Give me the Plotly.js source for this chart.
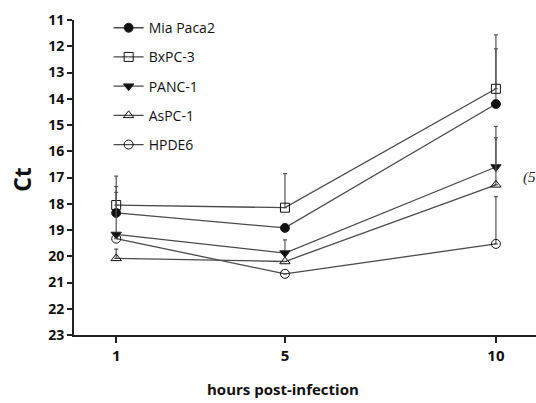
<!DOCTYPE html>
<html>
<head>
<meta charset="utf-8">
<script src="https://cdn.plot.ly/plotly-3.0.1.min.js"></script>
<style>html,body{margin:0;padding:0;background:#fff;}#chart{width:536px;height:403px;}</style>
</head>
<body>
<div id="chart"></div>
<script>
const hours = [1, 5, 10];
const seriesNames = ["Mia Paca2", "BxPC-3", "PANC-1", "AsPC-1", "HPDE6"];
const miaPaca2 = [18.35, 18.92, 14.2];
const bxpc3 = [18.05, 18.15, 13.62];
const panc1 = [19.17, 19.88, 16.6];
const aspc1 = [20.08, 20.2, 17.28];
const hpde6 = [19.33, 20.67, 19.53];
// error bars (drawn toward lower Ct, i.e. upward on the reversed axis)
const miaPaca2Err = [1.0, 0, 2.1];
const bxpc3Err = [1.1, 1.3, 2.05];
const panc1Err = [1.6, 0.5, 1.55];
const aspc1Err = [0.35, 0, 1.8];
const hpde6Err = [0, 0, 1.8];
const yTicks = [11,12,13,14,15,16,17,18,19,20,21,22,23];

const values = [miaPaca2, bxpc3, panc1, aspc1, hpde6];
const errs = [miaPaca2Err, bxpc3Err, panc1Err, aspc1Err, hpde6Err];
const symbols = ["circle", "square-open", "triangle-down", "triangle-up-open", "circle-open"];
const lineCol = "#4a4a4a";
const fam = "Open Sans, Liberation Sans, sans-serif";

const traces = seriesNames.map((n, i) => ({
  x: hours, y: values[i], name: n, type: "scatter", mode: "lines+markers",
  legendgroup: "g" + i,
  line: {color: lineCol, width: 1.3},
  marker: {symbol: symbols[i], size: 9, color: "#111", line: {color: "#222", width: 1}},
  error_y: {type: "data", symmetric: false, array: [0,0,0], arrayminus: errs[i],
            color: "#555", thickness: 1.2, width: 2}
}));

const layout = {
  width: 536, height: 403,
  margin: {l: 74, r: 0, t: 20, b: 68},
  paper_bgcolor: "#fff", plot_bgcolor: "#fff",
  showlegend: true,
  legend: {x: 0.075, y: 1.025, xanchor: "left", yanchor: "top",
           font: {family: fam, size: 14, color: "#111"},
           tracegroupgap: 8, bgcolor: "rgba(0,0,0,0)"},
  xaxis: {range: [0, 10.95], tickvals: hours, ticktext: hours.map(String),
          showline: true, linecolor: "#222", linewidth: 2, ticks: "outside", ticklen: 6,
          tickwidth: 2, tickcolor: "#222", showgrid: false, zeroline: false,
          tickfont: {family: fam, size: 15, color: "#111", weight: "bold"}},
  yaxis: {range: [23, 11], tickvals: yTicks, ticktext: yTicks.map(String),
          showline: true, linecolor: "#222", linewidth: 2, ticks: "outside", ticklen: 5,
          tickwidth: 2, tickcolor: "#222", showgrid: false, zeroline: false,
          tickfont: {family: fam, size: 14, color: "#111", weight: "bold"}},
  annotations: [
    {text: "<b>Ct</b>", xref: "paper", yref: "paper", x: -0.113, y: 0.495, xanchor: "center", yanchor: "middle",
     textangle: -90, showarrow: false, font: {family: fam, size: 23, color: "#111"}},
    {text: "<b>hours post-infection</b>", xref: "paper", yref: "paper", x: 0.453, y: -0.17, xanchor: "center", yanchor: "middle",
     showarrow: false, font: {family: fam, size: 15, color: "#111"}},
    {text: "<i>(5</i>", xref: "paper", yref: "paper", x: 0.967, y: 0.5, xanchor: "left", yanchor: "middle",
     showarrow: false, font: {family: "Liberation Serif, Times New Roman, serif", size: 15, color: "#222"}}
  ]
};
Plotly.newPlot("chart", traces, layout, {displayModeBar: false, staticPlot: true});
</script>
</body>
</html>
